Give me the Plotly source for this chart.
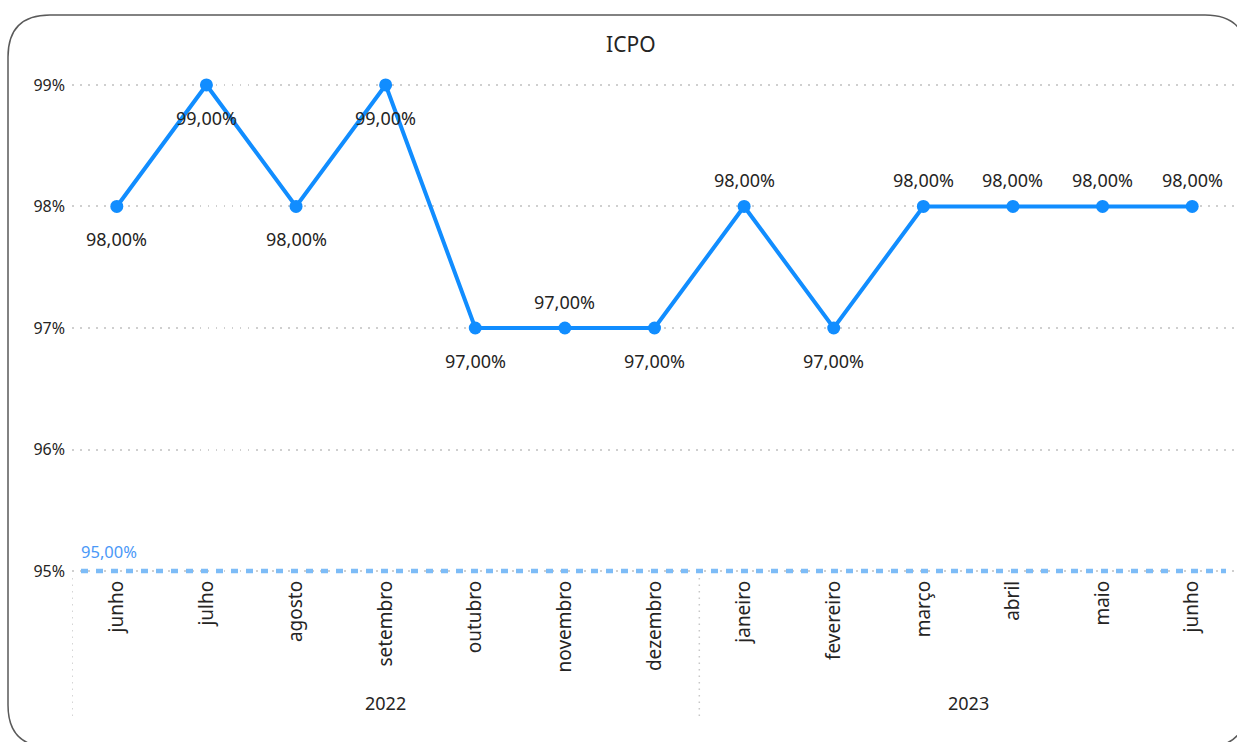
import plotly.graph_objects as go

# ---- data ----
months = ["junho", "julho", "agosto", "setembro", "outubro", "novembro", "dezembro",
          "janeiro", "fevereiro", "março", "abril", "maio", "junho"]
years = ["2022"] * 7 + ["2023"] * 6
values = [98.0, 99.0, 98.0, 99.0, 97.0, 97.0, 97.0, 98.0, 97.0, 98.0, 98.0, 98.0, 98.0]
label_pos = ["below", "below", "below", "below", "below", "above", "below",
             "above", "below", "above", "above", "above", "above"]
target = 95.0
ytick_vals = [95, 96, 97, 98, 99]
ytick_text = ["95%", "96%", "97%", "98%", "99%"]

W, H = 1237, 742
ML, MR, MT, MB = 72, 0, 60, 166
PW, PH = W - ML - MR, H - MT - MB
Y0 = H - MB  # pixel of plot bottom
FONT = "Noto Sans"
LINE = "#118DFF"
TXT = "#252423"

xs = list(range(len(months)))

fig = go.Figure()
fig.add_trace(go.Scatter(
    x=xs, y=values, mode="lines+markers",
    line=dict(color=LINE, width=4),
    marker=dict(color=LINE, size=13),
    showlegend=False, cliponaxis=False))

# target (constant line across the plot)
fig.add_shape(type="line", xref="paper", yref="y", x0=(81 - ML) / PW, x1=(1226 - ML) / PW,
              y0=target, y1=target, line=dict(color="#7DBCF7", width=4.5, dash="7px,8px"),
              layer="above")

# data labels
for x, v, p in zip(xs, values, label_pos):
    fig.add_annotation(x=x, y=v, xref="x", yref="y",
                       text=f"{v:.2f}%".replace(".", ","), showarrow=False,
                       yshift=(-33 if p == "below" else 26),
                       font=dict(family=FONT, size=18, color=TXT))

# target label
fig.add_annotation(x=-0.5, y=target, xref="x", yref="y", text=f"{target:.2f}%".replace(".", ","),
                   showarrow=False, xanchor="left", yanchor="bottom", xshift=7, yshift=6,
                   font=dict(family=FONT, size=16.5, color="#4A98F7"))

# year group labels and separators
groups = []
for i, y in enumerate(years):
    if not groups or groups[-1][0] != y:
        groups.append([y, i, i])
    else:
        groups[-1][2] = i
for y, a, b in groups:
    fig.add_annotation(x=(a + b) / 2, y=(Y0 - 703) / PH, xref="x", yref="paper", text=y,
                       showarrow=False, yanchor="middle",
                       font=dict(family=FONT, size=18, color=TXT))
    fig.add_shape(type="line", xref="x", yref="paper", x0=a - 0.5, x1=a - 0.5,
                  y0=(Y0 - 578) / PH, y1=(Y0 - 718) / PH,
                  line=dict(color="#C8C8C8", width=1.5, dash="1.5px,5px"))

# rounded border (partly outside the visible page, as in the reference)
def px(x):
    return (x - ML) / PW
def py(y):
    return (Y0 - y) / PH
L, R, T, B, r = 8, 1247, 15, 747, 42
path = (f"M {px(L + r)},{py(T)} L {px(R - r)},{py(T)} Q {px(R)},{py(T)} {px(R)},{py(T + r)} "
        f"L {px(R)},{py(B - r)} Q {px(R)},{py(B)} {px(R - r)},{py(B)} "
        f"L {px(L + r)},{py(B)} Q {px(L)},{py(B)} {px(L)},{py(B - r)} "
        f"L {px(L)},{py(T + r)} Q {px(L)},{py(T)} {px(L + r)},{py(T)} Z")
fig.add_shape(type="path", path=path, xref="paper", yref="paper",
              line=dict(color="#5A5A5A", width=1.5), layer="above")

fig.update_layout(
    width=W, height=H, margin=dict(l=ML, r=MR, t=MT, b=MB),
    paper_bgcolor="white", plot_bgcolor="white",
    title=dict(text="ICPO", x=0.51, xanchor="center", y=1 - 45 / H, yanchor="middle",
               font=dict(family=FONT, size=21, color=TXT)),
    xaxis=dict(range=[-0.5, len(months) - 0.5], tickmode="array", tickvals=xs, ticktext=months,
               tickangle=-90, showgrid=False, zeroline=False, showline=False,
               ticks="", ticklen=0,
               tickfont=dict(family=FONT, size=19, color=TXT)),
    yaxis=dict(range=[95 - 5 / 121.7, 99 + 25 / 121.7], tickmode="array",
               tickvals=ytick_vals, ticktext=ytick_text,
               showgrid=True, gridcolor="#CFCFCF", griddash="1.5px,6.5px", gridwidth=1.5,
               zeroline=False, showline=False,
               tickfont=dict(family=FONT, size=16, color=TXT), ticklabelstandoff=6),
    font=dict(family=FONT),
)

fig.write_html("out.html", config={"displayModeBar": False},
               post_script="document.body.style.margin='0';")
